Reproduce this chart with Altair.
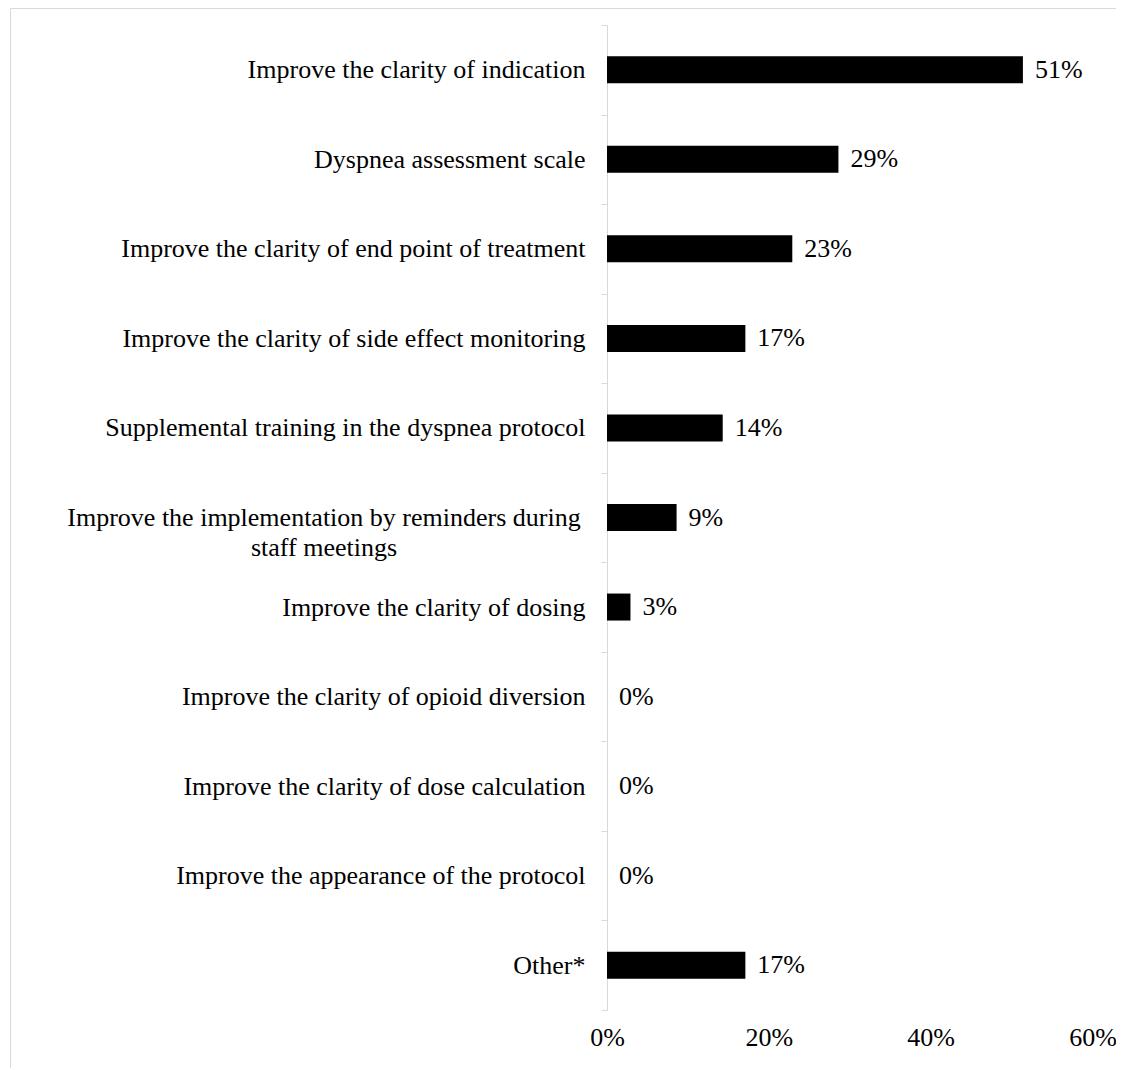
import altair as alt
import pandas as pd

categories = [
    "Improve the clarity of indication",
    "Dyspnea assessment scale",
    "Improve the clarity of end point of treatment",
    "Improve the clarity of side effect monitoring",
    "Supplemental training in the dyspnea protocol",
    "Improve the implementation by reminders during staff meetings",
    "Improve the clarity of dosing",
    "Improve the clarity of opioid diversion",
    "Improve the clarity of dose calculation",
    "Improve the appearance of the protocol",
    "Other*",
]
values_pct = [51.4, 28.6, 22.9, 17.1, 14.3, 8.6, 2.9, 0.0, 0.0, 0.0, 17.1]
x_ticks = [0, 0.2, 0.4, 0.6]

MULTI = "Improve the implementation by reminders during staff meetings"
MULTI_TEXT = "Improve the implementation by reminders during\nstaff meetings"

df = pd.DataFrame({"cat": categories, "val": [v / 100 for v in values_pct]})
df_multi = pd.DataFrame({"cat": [MULTI], "txt": [MULTI_TEXT]})
df_border = pd.DataFrame({"a": [0]})

FONT = "'Liberation Serif', 'Times New Roman', 'DejaVu Serif', serif"
FS = 26
GREY = "#d9d9d9"

y_enc = alt.Y(
    "cat:N",
    sort=categories,
    title=None,
    scale=alt.Scale(paddingInner=0, paddingOuter=0),
    axis=alt.Axis(
        domainColor=GREY,
        tickColor=GREY,
        tickSize=6,
        tickBand="extent",
        labelPadding=16,
        labelFont=FONT,
        labelFontSize=FS,
        labelColor="black",
        labelLimit=700,
        labelExpr=f"datum.label == '{MULTI}' ? '' : datum.label",
    ),
)

x_enc = alt.X(
    "val:Q",
    title=None,
    scale=alt.Scale(domain=[0, 0.6]),
    axis=alt.Axis(
        values=x_ticks,
        format=".0%",
        grid=False,
        domain=False,
        ticks=False,
        labelPadding=14,
        labelFont=FONT,
        labelFontSize=FS,
        labelColor="black",
        labelFlush=False,
    ),
)

bars = alt.Chart(df).mark_bar(color="black", size=27).encode(x=x_enc, y=y_enc)

labels = alt.Chart(df).mark_text(
    align="left", baseline="middle", dx=12, font=FONT, fontSize=FS, color="black"
).encode(x="val:Q", y=alt.Y("cat:N", sort=categories), text=alt.Text("val:Q", format=".0%"))

multi = alt.Chart(df_multi).mark_text(
    align="center", baseline="middle", lineBreak="\n", lineHeight=30,
    font=FONT, fontSize=FS, color="black"
).encode(x=alt.value(-283), y=alt.Y("cat:N", sort=categories), text="txt:N")

border = alt.Chart(df_border).mark_rect(fill=None, stroke=GREY, strokeWidth=1).encode(
    x=alt.value(-596.5), x2=alt.value(2000), y=alt.value(-16.5), y2=alt.value(3000)
)

chart = (
    alt.layer(border, bars, labels, multi)
    .properties(
        width=485.5,
        height=985,
        padding={"left": 599, "top": 17, "right": 23, "bottom": 58},
        autosize=alt.AutoSizeParams(type="none"),
    )
    .configure_view(stroke=None)
)

chart.save("out.html", embed_options={"renderer": "svg", "actions": False})
